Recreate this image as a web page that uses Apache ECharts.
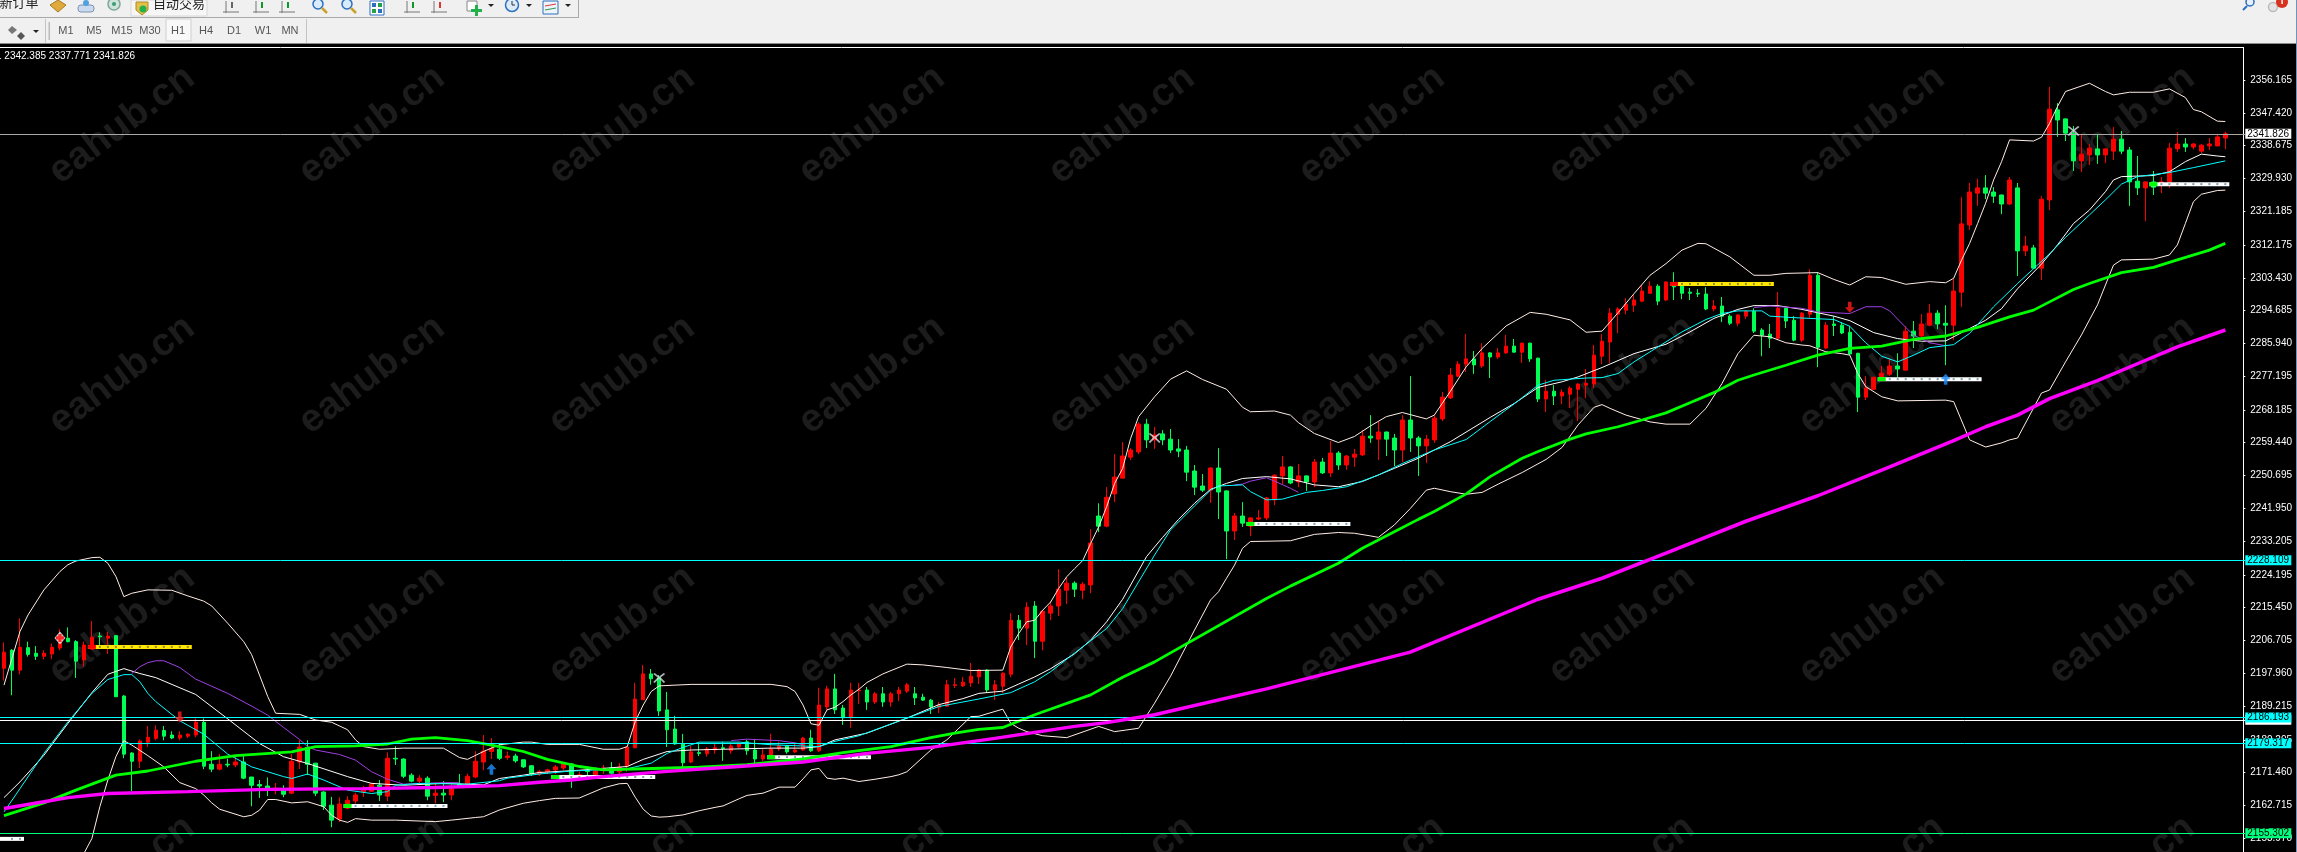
<!DOCTYPE html>
<html><head><meta charset="utf-8"><title>XAUUSD H1</title>
<style>html,body{margin:0;padding:0;background:#000;overflow:hidden}#c{width:2297px;height:852px}</style>
<script src="https://cdn.jsdelivr.net/npm/echarts@6/dist/echarts.min.js"></script></head>
<body><div id="c"></div><script>
// ---- candle prices (one row = 10 candles) ----
const opens=[
2199.3,2204.1,2198.8,2204.8,2203.3,2202.5,2203.1,2204.7,2207.3,2206.4,
2201.5,2204.4,2207.9,2207.3,2208.0,2191.9,2176.7,2174.5,2179.6,2180.6,
2182.7,2181.5,2180.7,2181.2,2181.5,2184.9,2173.7,2172.4,2173.7,2173.5,
2174.3,2170.3,2168.3,2167.9,2166.8,2166.8,2166.0,2174.3,2178.2,2174.0,
2166.3,2162.8,2159.1,2162.0,2163.9,2166.3,2166.5,2168.1,2165.2,2175.3,
2175.1,2170.8,2169.2,2170.0,2165.4,2166.0,2165.5,2168.4,2168.4,2170.3,
2174.3,2177.1,2177.7,2175.5,2175.9,2174.9,2173.3,2171.1,2171.7,2172.2,
2172.7,2173.8,2170.1,2172.0,2170.9,2172.4,2172.7,2171.7,2173.3,2178.1,
2190.9,2197.8,2196.7,2188.2,2183.1,2179.1,2174.3,2176.8,2176.5,2177.5,
2178.1,2177.3,2178.3,2179.7,2177.5,2175.1,2176.2,2177.8,2178.6,2177.0,
2177.5,2180.7,2177.3,2189.0,2193.8,2188.7,2186.3,2193.3,2193.5,2190.3,
2192.5,2190.3,2192.5,2193.2,2192.5,2191.6,2190.8,2188.9,2189.2,2194.7,
2194.6,2195.4,2197.0,2198.8,2193.5,2194.5,2197.7,2212.1,2210.0,2215.9,
2206.5,2214.0,2215.9,2220.1,2222.0,2220.1,2221.5,2239.9,2237.2,2245.8,
2250.0,2255.6,2257.0,2264.4,2260.2,2261.8,2260.4,2257.8,2257.5,2251.9,
2247.9,2246.8,2252.7,2246.6,2235.9,2239.9,2237.2,2239.1,2239.4,2244.2,
2250.6,2253.0,2249.0,2250.6,2249.0,2254.3,2251.4,2256.7,2253.5,2255.6,
2256.2,2261.2,2260.4,2262.3,2260.7,2257.5,2265.5,2260.7,2258.6,2260.2,
2265.8,2271.4,2277.2,2280.4,2281.8,2279.9,2283.4,2282.3,2283.4,2285.2,
2283.6,2286.0,2282.0,2271.1,2273.2,2271.9,2272.4,2273.7,2274.8,2275.1,
2282.5,2286.3,2293.7,2294.8,2296.1,2297.2,2299.3,2301.2,2297.5,2301.2,
2301.2,2299.6,2299.3,2299.1,2295.1,2295.9,2293.2,2291.3,2293.2,2294.5,
2289.5,2288.4,2287.3,2295.3,2292.1,2286.8,2293.7,2304.1,2284.7,2291.1,
2290.8,2288.9,2283.3,2271.6,2273.7,2276.7,2277.7,2279.9,2278.8,2289.2,
2287.9,2290.8,2294.0,2291.3,2290.8,2299.6,2317.5,2326.0,2327.4,2326.3,
2325.5,2323.1,2327.4,2310.6,2311.4,2306.0,2324.2,2348.2,2345.8,2342.0,
2334.6,2336.2,2337.8,2336.2,2337.2,2340.4,2337.5,2329.2,2327.4,2329.0,
2328.7,2329.0,2337.8,2339.1,2338.3,2337.2,2338.6,2338.6,2340.7];
const closes=[
2203.6,2198.8,2204.9,2203.0,2202.5,2203.3,2204.9,2207.4,2206.4,2201.2,
2205.5,2207.6,2207.7,2207.9,2191.7,2176.4,2174.5,2179.9,2180.9,2182.8,
2181.2,2180.7,2181.5,2181.7,2184.9,2173.2,2172.4,2173.7,2173.5,2174.3,
2170.0,2168.1,2167.9,2166.8,2167.3,2165.7,2174.5,2178.3,2173.7,2166.0,
2162.5,2158.8,2163.1,2164.1,2165.5,2166.8,2168.4,2165.5,2175.3,2175.1,
2170.5,2169.2,2170.0,2165.2,2166.0,2165.5,2167.1,2167.9,2170.5,2174.5,
2177.2,2177.9,2175.3,2175.9,2174.6,2173.0,2171.1,2171.7,2172.2,2173.0,
2173.8,2169.8,2170.9,2171.8,2171.9,2172.7,2171.3,2172.9,2178.3,2191.1,
2197.8,2196.5,2187.9,2182.9,2179.1,2174.1,2177.0,2176.6,2177.8,2178.1,
2177.9,2178.6,2179.1,2177.3,2175.1,2176.2,2177.8,2178.6,2177.0,2177.5,
2180.7,2177.3,2189.5,2193.8,2188.2,2186.1,2193.5,2193.5,2190.3,2192.5,
2190.3,2192.5,2193.5,2194.9,2191.4,2190.8,2189.0,2189.5,2194.9,2194.9,
2195.6,2197.2,2198.8,2193.5,2194.9,2198.0,2212.1,2210.0,2215.6,2206.5,
2214.5,2215.9,2220.4,2222.0,2220.4,2221.7,2232.7,2237.2,2244.9,2250.3,
2255.9,2257.5,2264.4,2260.2,2261.5,2260.2,2257.5,2257.2,2251.6,2247.6,
2246.8,2252.7,2246.3,2235.9,2239.9,2238.0,2239.4,2239.4,2244.7,2250.8,
2253.0,2248.7,2250.6,2249.0,2254.3,2251.4,2256.7,2253.5,2255.9,2256.4,
2261.2,2260.7,2262.3,2260.4,2257.5,2265.5,2260.7,2258.6,2260.4,2266.0,
2271.6,2277.5,2280.4,2281.8,2280.2,2283.4,2282.3,2283.4,2285.2,2283.6,
2286.0,2281.8,2271.1,2273.2,2271.9,2272.9,2274.0,2275.1,2275.3,2282.8,
2286.5,2294.0,2295.1,2296.4,2297.5,2299.9,2301.2,2297.2,2302.3,2301.0,
2299.3,2299.3,2299.1,2295.1,2295.9,2293.2,2291.3,2293.5,2294.5,2289.2,
2288.1,2287.3,2295.3,2291.9,2286.8,2294.0,2304.1,2284.9,2290.8,2290.7,
2288.7,2283.1,2271.6,2274.0,2276.9,2278.0,2279.9,2279.1,2289.2,2287.9,
2291.1,2294.0,2291.1,2290.8,2299.9,2317.8,2326.3,2327.4,2326.0,2325.2,
2323.1,2329.5,2310.6,2311.9,2306.0,2324.4,2348.4,2345.5,2342.0,2334.6,
2336.4,2338.0,2336.2,2337.8,2340.4,2337.2,2329.0,2327.4,2329.0,2327.6,
2329.0,2338.0,2339.1,2338.3,2339.1,2338.8,2339.1,2341.0,2341.826];
const lows=[
2196.0,2192.1,2197.7,2202.4,2201.5,2201.7,2201.7,2204.1,2206.2,2196.7,
2199.7,2204.3,2205.5,2203.1,2191.7,2175.3,2166.5,2172.7,2178.3,2180.1,
2180.1,2180.4,2180.1,2180.7,2180.9,2172.4,2171.6,2172.1,2172.9,2172.9,
2169.7,2162.5,2164.7,2165.2,2165.7,2164.9,2165.8,2172.4,2170.8,2165.2,
2161.5,2156.9,2158.3,2161.7,2163.2,2165.0,2166.4,2163.9,2163.9,2173.5,
2170.0,2168.9,2168.1,2164.1,2163.3,2163.6,2164.1,2167.7,2168.1,2170.0,
2172.1,2175.1,2174.8,2174.9,2174.1,2172.7,2170.6,2170.6,2171.1,2171.1,
2172.2,2167.4,2169.5,2170.6,2170.6,2171.1,2170.9,2171.1,2171.7,2178.0,
2190.8,2194.9,2186.6,2178.3,2178.9,2172.2,2174.0,2175.9,2175.7,2176.5,
2174.6,2176.5,2178.0,2176.2,2173.8,2174.6,2175.4,2177.3,2176.5,2176.7,
2177.3,2177.0,2177.0,2188.2,2187.1,2184.2,2183.4,2189.8,2188.2,2189.8,
2189.0,2189.0,2190.6,2192.7,2189.5,2190.6,2187.1,2187.4,2189.0,2194.0,
2194.3,2194.3,2195.1,2192.7,2190.8,2192.7,2196.9,2206.8,2205.5,2202.0,
2204.1,2212.1,2213.2,2216.4,2218.3,2217.7,2219.3,2235.6,2236.9,2243.6,
2250.0,2254.8,2256.4,2258.0,2257.8,2258.8,2256.7,2255.6,2249.2,2245.5,
2246.3,2243.4,2239.1,2228.4,2233.5,2237.0,2234.6,2238.8,2238.8,2242.8,
2248.4,2248.4,2247.6,2246.6,2247.6,2251.1,2250.3,2252.2,2252.2,2253.0,
2255.9,2259.4,2254.8,2255.9,2253.2,2254.3,2257.0,2250.6,2254.0,2259.4,
2265.2,2271.1,2277.0,2278.3,2277.8,2279.4,2276.7,2281.8,2283.1,2283.5,
2280.7,2281.0,2270.3,2267.6,2269.5,2269.7,2268.7,2265.2,2271.3,2274.0,
2280.4,2280.7,2288.7,2293.7,2294.3,2296.9,2299.1,2296.1,2297.2,2297.5,
2297.7,2297.5,2298.3,2294.8,2294.5,2291.6,2290.8,2290.5,2292.4,2288.7,
2282.5,2284.7,2286.8,2290.0,2286.5,2286.3,2292.7,2279.6,2284.4,2287.9,
2288.4,2282.8,2267.6,2270.8,2273.5,2276.4,2277.2,2276.9,2278.7,2284.7,
2287.6,2290.5,2289.7,2280.1,2286.8,2295.6,2316.2,2322.6,2324.4,2323.4,
2320.4,2322.8,2303.9,2309.2,2305.9,2302.8,2321.5,2341.0,2339.9,2331.9,
2331.6,2333.5,2333.8,2334.0,2334.8,2336.4,2322.6,2325.5,2318.6,2325.5,
2326.0,2327.4,2337.0,2337.0,2337.7,2336.7,2337.5,2338.5,2337.771];
const highs=[
2206.2,2204.4,2212.6,2206.4,2205.2,2204.1,2205.9,2209.7,2210.2,2206.8,
2206.4,2211.9,2208.9,2209.0,2208.0,2192.1,2176.9,2180.3,2183.9,2184.1,
2183.9,2182.5,2182.5,2182.0,2185.9,2185.9,2177.2,2176.4,2175.2,2175.9,
2175.9,2170.3,2169.5,2170.2,2168.7,2168.1,2176.4,2180.1,2180.1,2174.0,
2166.5,2165.0,2164.9,2165.2,2166.1,2167.9,2168.8,2169.5,2176.9,2178.5,
2175.3,2171.3,2170.8,2170.5,2168.9,2169.2,2168.4,2171.1,2171.2,2177.2,
2181.5,2180.7,2179.1,2177.1,2176.5,2175.0,2173.5,2172.2,2172.5,2173.5,
2174.2,2174.0,2171.7,2172.6,2173.0,2173.5,2174.3,2174.0,2178.5,2195.4,
2200.2,2199.1,2197.5,2193.0,2186.6,2181.8,2178.6,2179.1,2178.3,2179.1,
2179.7,2179.4,2179.7,2180.2,2180.2,2177.8,2181.8,2179.7,2178.6,2179.1,
2181.0,2182.9,2194.1,2194.6,2197.8,2189.5,2195.4,2195.4,2194.3,2193.0,
2194.3,2193.0,2194.3,2195.4,2194.3,2192.5,2191.1,2190.3,2196.2,2196.7,
2197.0,2200.7,2199.1,2199.0,2196.2,2198.2,2214.0,2213.5,2216.9,2217.2,
2214.8,2217.2,2225.7,2223.6,2222.5,2222.3,2236.4,2243.3,2247.6,2256.4,
2259.6,2258.0,2264.9,2265.8,2263.6,2262.8,2263.1,2260.4,2258.6,2253.5,
2251.1,2252.9,2258.0,2246.7,2240.7,2243.6,2239.5,2241.5,2245.0,2251.0,
2255.9,2253.2,2253.8,2250.7,2255.1,2255.4,2259.9,2257.2,2256.2,2257.8,
2262.8,2266.8,2265.0,2262.4,2261.8,2266.8,2277.2,2261.2,2261.5,2266.8,
2273.0,2279.4,2281.2,2288.4,2283.9,2286.0,2283.6,2284.7,2288.2,2287.1,
2286.1,2286.1,2282.1,2276.2,2274.8,2273.7,2274.5,2275.3,2279.1,2285.5,
2288.4,2295.3,2295.6,2298.0,2298.8,2301.5,2302.5,2301.7,2302.5,2304.9,
2301.5,2300.7,2300.4,2300.9,2297.5,2298.3,2293.7,2293.7,2294.8,2295.3,
2290.0,2291.1,2299.6,2295.4,2293.2,2294.3,2305.7,2304.9,2291.6,2293.2,
2291.6,2290.5,2283.4,2277.2,2277.0,2279.9,2282.0,2283.3,2290.5,2291.9,
2293.7,2296.4,2294.8,2296.1,2303.1,2325.0,2328.7,2329.8,2330.8,2327.6,
2325.6,2330.3,2328.7,2314.6,2312.2,2325.2,2354.3,2350.0,2345.9,2343.9,
2341.5,2339.1,2341.8,2338.0,2343.6,2342.6,2338.3,2335.9,2329.1,2331.9,
2330.3,2339.4,2342.3,2340.7,2339.4,2339.1,2340.7,2341.8,2342.385];

// ---- indicator lines: [candle number, price] read at points along each curve ----
const upperBand=[[0,2194.8],[2,2209.1],[3,2213.5],[5,2220.2],[7,2225.1],[8,2226.9],[9,2227.9],[11,2228.8],[12,2228.9],[13,2227.3],[14,2223.8],[15,2218.4],[16,2219.3],[18,2220.2],[21,2220.1],[23,2218.6],[25,2217.2],[26,2215.9],[28,2211.3],[30,2206.4],[31,2202.9],[33,2191.8],[34,2187.3],[37,2187.0],[39,2185.5],[41,2184.9],[43,2182.9],[44,2180.2],[45,2178.4],[47,2177.7],[50,2178.0],[55,2178.0],[57,2175.5],[58,2175.0],[60,2177.1],[62,2178.9],[65,2179.6],[66,2179.6],[68,2179.0],[72,2179.0],[75,2177.7],[77,2177.7],[78,2178.4],[79,2185.1],[80,2189.5],[81,2193.1],[82,2194.6],[86,2195.0],[92,2195.0],[96,2195.0],[98,2194.4],[99,2193.1],[100,2189.5],[101,2184.5],[102,2184.1],[103,2188.2],[104,2188.9],[105,2190.4],[106,2192.2],[107,2193.7],[108,2195.5],[110,2197.8],[113,2200.4],[115,2200.2],[118,2199.5],[121,2198.7],[125,2198.8],[126,2205.0],[127,2208.6],[128,2211.7],[129,2212.1],[130,2214.8],[131,2217.0],[132,2220.6],[133,2223.7],[134,2225.9],[135,2228.0],[136,2232.6],[137,2237.0],[138,2242.4],[139,2248.6],[140,2252.6],[141,2260.6],[142,2266.4],[144,2271.7],[146,2276.4],[148,2278.6],[150,2276.3],[153,2273.7],[155,2268.9],[156,2267.7],[159,2267.9],[161,2266.8],[162,2264.8],[164,2261.9],[167,2259.5],[169,2261.1],[171,2263.9],[173,2266.4],[175,2267.5],[178,2265.8],[179,2266.8],[181,2273.1],[183,2279.7],[185,2284.6],[188,2290.6],[191,2294.2],[193,2293.7],[196,2292.2],[198,2288.9],[200,2289.2],[202,2294.1],[204,2299.2],[206,2304.1],[208,2307.2],[210,2310.8],[212,2312.6],[213,2312.5],[216,2309.0],[219,2304.1],[221,2304.1],[223,2304.6],[227,2304.8],[229,2303.0],[231,2301.5],[233,2303.7],[235,2303.5],[238,2301.7],[241,2302.4],[243,2302.1],[244,2303.3],[245,2308.2],[246,2312.6],[247,2317.9],[248,2323.3],[249,2329.5],[250,2334.4],[251,2340.2],[254,2339.9],[255,2340.9],[256,2344.6],[257,2349.1],[258,2353.1],[261,2355.3],[263,2353.1],[264,2352.2],[266,2352.9],[269,2352.9],[271,2353.8],[273,2351.5],[274,2348.3],[275,2347.7],[277,2345.2],[278,2345.1]];
const midBand=[[0,2164.8],[2,2169.0],[5,2176.1],[8,2184.6],[11,2192.8],[13,2197.7],[15,2199.2],[17,2197.9],[19,2196.8],[24,2192.3],[28,2185.8],[32,2179.2],[35,2175.7],[38,2173.9],[43,2170.4],[46,2168.6],[50,2168.1],[55,2168.6],[60,2168.2],[62,2169.9],[65,2170.8],[67,2171.5],[72,2172.1],[78,2173.1],[80,2175.0],[83,2177.1],[86,2177.5],[90,2177.7],[96,2178.0],[100,2178.0],[102,2178.4],[104,2180.2],[108,2182.0],[113,2186.0],[117,2189.6],[120,2191.2],[122,2192.6],[125,2193.2],[127,2195.1],[129,2197.0],[131,2199.2],[134,2203.2],[136,2206.8],[138,2211.7],[140,2217.7],[143,2229.1],[145,2234.2],[147,2239.0],[149,2243.3],[151,2247.0],[153,2248.6],[155,2249.9],[158,2250.4],[161,2249.8],[164,2248.2],[167,2247.7],[170,2249.1],[174,2252.6],[177,2255.3],[181,2259.7],[186,2266.2],[189,2269.9],[192,2274.2],[195,2275.7],[197,2277.0],[200,2279.5],[204,2283.2],[208,2285.7],[211,2289.0],[214,2292.6],[217,2295.0],[219,2296.0],[222,2296.0],[225,2295.0],[229,2293.2],[231,2292.0],[234,2288.8],[237,2287.2],[240,2286.5],[243,2286.6],[246,2289.9],[248,2292.1],[250,2295.2],[252,2300.5],[255,2307.1],[257,2312.2],[259,2317.9],[261,2321.5],[263,2326.4],[264,2329.5],[265,2330.4],[269,2330.7],[271,2331.7],[273,2334.4],[275,2336.4],[277,2335.9],[278,2335.7]];
const lowerBand=[[10,2149.9],[11,2153.9],[12,2162.4],[13,2169.5],[14,2175.7],[15,2180.0],[16,2178.8],[18,2176.0],[20,2173.0],[22,2168.8],[24,2167.2],[25,2165.5],[26,2163.4],[27,2161.7],[30,2159.7],[31,2160.1],[32,2161.5],[33,2164.3],[34,2164.3],[36,2163.4],[38,2163.7],[40,2162.4],[41,2160.1],[42,2158.8],[43,2158.2],[44,2159.2],[46,2158.8],[49,2158.8],[54,2158.4],[56,2158.8],[59,2159.5],[60,2159.7],[62,2161.5],[65,2163.3],[67,2164.0],[69,2164.6],[72,2164.7],[75,2167.4],[77,2168.5],[78,2168.6],[79,2164.9],[80,2161.7],[81,2159.9],[82,2159.6],[83,2159.7],[85,2160.2],[87,2161.3],[89,2162.2],[90,2162.6],[92,2164.5],[93,2165.4],[95,2166.0],[97,2167.6],[99,2167.6],[100,2169.8],[101,2172.2],[102,2172.6],[103,2170.0],[104,2169.7],[105,2170.0],[107,2169.1],[109,2169.7],[111,2170.4],[112,2170.9],[113,2171.7],[116,2177.5],[118,2180.2],[121,2186.4],[122,2186.5],[125,2188.4],[126,2184.6],[127,2183.3],[128,2182.4],[130,2181.3],[133,2180.8],[137,2183.8],[139,2182.4],[142,2183.3],[144,2190.0],[146,2197.2],[149,2209.5],[151,2217.5],[152,2219.7],[153,2223.3],[154,2226.8],[155,2231.3],[156,2233.1],[161,2233.3],[164,2235.0],[167,2235.5],[169,2235.3],[171,2234.6],[172,2234.2],[174,2237.5],[176,2241.9],[178,2246.8],[179,2247.3],[181,2246.4],[183,2245.7],[185,2246.2],[187,2248.4],[190,2251.5],[193,2255.0],[195,2258.2],[197,2264.2],[199,2268.9],[200,2269.6],[201,2268.6],[203,2266.8],[206,2265.0],[208,2264.4],[211,2264.4],[213,2268.6],[215,2275.2],[217,2283.2],[219,2288.1],[221,2287.7],[223,2286.1],[225,2285.5],[226,2285.3],[228,2283.7],[230,2283.2],[231,2282.8],[232,2277.9],[233,2274.4],[235,2271.7],[237,2270.6],[243,2270.8],[244,2270.4],[246,2260.2],[248,2258.3],[250,2259.4],[251,2260.2],[252,2260.7],[255,2272.7],[256,2273.5],[258,2281.0],[260,2288.2],[262,2296.2],[263,2301.5],[264,2306.8],[265,2308.2],[269,2308.4],[271,2309.5],[272,2312.2],[273,2317.9],[274,2323.7],[275,2325.7],[277,2326.7],[278,2326.8]];
const cyanLine=[[0,2161.0],[2,2167.2],[5,2176.6],[8,2185.0],[11,2192.6],[13,2196.3],[15,2197.6],[16,2197.6],[17,2195.7],[18,2192.6],[19,2190.4],[22,2185.3],[25,2181.7],[28,2176.4],[31,2173.0],[35,2170.4],[36,2169.9],[38,2171.1],[40,2169.5],[43,2166.8],[46,2165.9],[48,2166.4],[49,2168.1],[52,2168.6],[58,2168.4],[62,2169.3],[63,2170.0],[67,2171.1],[71,2171.9],[78,2172.5],[81,2174.0],[83,2176.6],[85,2178.2],[87,2179.6],[92,2179.6],[96,2178.9],[102,2178.4],[104,2179.8],[107,2181.3],[113,2186.0],[117,2189.1],[122,2191.1],[126,2192.8],[129,2195.7],[131,2198.4],[135,2205.0],[138,2209.9],[140,2215.2],[141,2218.8],[144,2229.5],[146,2236.2],[149,2242.6],[151,2246.8],[152,2247.9],[155,2248.2],[156,2246.4],[158,2244.2],[160,2244.4],[163,2246.2],[165,2246.7],[168,2247.7],[172,2250.8],[175,2253.9],[179,2257.5],[183,2260.3],[186,2265.1],[189,2269.8],[192,2274.8],[194,2276.1],[198,2276.7],[200,2276.8],[202,2277.9],[204,2281.0],[207,2285.0],[210,2289.0],[213,2292.3],[215,2293.9],[217,2294.6],[220,2294.6],[221,2293.2],[224,2292.8],[229,2292.3],[231,2290.5],[233,2286.1],[235,2282.5],[237,2281.0],[239,2282.8],[241,2284.8],[244,2285.6],[246,2288.6],[249,2295.7],[252,2301.9],[256,2309.8],[258,2314.2],[261,2320.2],[263,2324.2],[265,2328.4],[267,2330.4],[271,2331.5],[274,2332.8],[278,2334.6]];
const limeLine=[[0,2160.0],[5,2163.4],[9,2166.8],[14,2170.8],[18,2171.9],[24,2174.5],[29,2176.0],[36,2177.0],[39,2178.4],[44,2178.6],[48,2179.1],[51,2180.4],[54,2180.8],[58,2180.0],[62,2178.4],[65,2177.1],[68,2175.0],[72,2173.1],[75,2172.2],[80,2172.5],[87,2172.9],[93,2173.6],[100,2175.1],[105,2176.8],[111,2178.4],[116,2180.8],[119,2182.0],[122,2183.0],[125,2183.5],[129,2186.9],[136,2192.2],[140,2196.9],[144,2201.0],[158,2217.9],[161,2221.2],[167,2227.3],[170,2231.3],[174,2235.7],[177,2239.0],[179,2241.1],[183,2245.8],[186,2250.4],[190,2255.3],[192,2257.1],[196,2260.4],[198,2261.8],[202,2263.7],[205,2265.5],[208,2267.4],[211,2270.1],[214,2272.8],[217,2276.1],[219,2277.5],[223,2280.1],[227,2282.8],[231,2284.6],[235,2285.2],[239,2287.0],[243,2287.9],[247,2290.2],[251,2293.0],[254,2294.8],[256,2297.0],[259,2300.3],[261,2301.9],[265,2304.8],[269,2306.2],[272,2308.2],[276,2310.8],[278,2312.6]];
const magentaLine=[[0,2161.9],[5,2163.7],[8,2164.8],[13,2165.9],[23,2166.4],[33,2167.0],[45,2167.2],[54,2167.5],[62,2168.0],[67,2168.9],[71,2169.5],[75,2170.4],[83,2171.8],[92,2173.1],[100,2174.3],[108,2176.6],[116,2178.2],[124,2180.6],[134,2183.8],[138,2184.8],[144,2186.9],[158,2193.8],[176,2203.6],[192,2217.7],[200,2223.3],[208,2230.0],[218,2238.5],[227,2245.3],[236,2253.0],[244,2260.0],[248,2263.7],[252,2266.8],[256,2271.2],[262,2276.0],[267,2280.5],[272,2285.0],[278,2289.5]];
const purpleA=[[16,2197.9],[17,2199.7],[18,2200.8],[19,2201.3],[20,2201.3],[22,2199.5],[24,2196.4],[28,2192.6],[31,2189.2],[33,2186.8],[35,2183.5],[37,2180.3],[38,2178.4],[39,2177.5],[42,2176.3],[44,2174.8],[46,2171.7],[48,2169.7],[50,2168.4],[55,2168.8],[57,2168.8]];
const purpleB=[[91,2180.0],[93,2180.4],[97,2180.0],[99,2179.4],[100,2178.9]];
const purpleC=[[154,2248.2],[155,2248.4],[156,2249.2],[158,2250.1],[159,2249.2],[161,2247.3],[162,2246.2]];
const purpleD=[[219,2295.5],[221,2295.9],[225,2295.3],[227,2294.3],[231,2293.9],[233,2295.7],[235,2295.7],[236,2294.6],[238,2290.2],[239,2288.1],[241,2286.1],[243,2285.3]];
const purpleE=[[73,2172.6],[75,2172.6]];

// ---- dotted level bars: first candle, last candle, price ----
const yellowBars=[[11,23,2205.0],[209,221,2301.8]];
const whiteBars=[[0,2,2153.8],[43,55,2162.6],[69,81,2170.3],[96,108,2175.6],[156,168,2237.8],[235,247,2276.4],[269,278,2328.4]];

// ---- signal marks ----
const redDownArrows=[[22,2186.3],[231,2295.6]];
const blueUpArrows=[[61,2172.4],[243,2276.4]];
const crossMarks=[[82,2196.7],[144,2260.7],[259,2342.6]];
const fishMarks=[[7,2207.4]];

// ---- horizontal levels, price axis ----
const whiteLevel=2185.55, bidLevel=2341.826;
const cyanLevels=[2228.109,2186.193,2179.317];
const greenLevel=2155.302;
const axisTicks=[2356.165,2347.420,2338.675,2329.930,2321.185,2312.175,2303.430,2294.685,2285.940,2277.195,2268.185,2259.440,2250.695,2241.950,2233.205,2224.195,2215.450,2206.705,2197.960,2189.215,2180.205,2171.460,2162.715,2153.970];
const headerText='1 2342.385 2337.771 2341.826';
const periods=['M1','M5','M15','M30','H1','H4','D1','W1','MN'];
const watermark='eahub.cn';

// ---- drawing ----
const categories=Array.from({length:281},(_,i)=>'c'+i);
const candleData=opens.map((o,i)=>[o,closes[i],lows[i],highs[i]]);
const FONT='"Liberation Sans",Arial,sans-serif';
const thin=(name,data,color,w,z)=>({type:'line',name,data,showSymbol:false,symbol:'none',silent:true,z:z||4,animation:false,lineStyle:{color,width:w},itemStyle:{color},connectNulls:true,clip:true});
const marks=(data,symbol,size,color,rot)=>({type:'scatter',data,symbol,symbolSize:size,symbolRotate:rot||0,z:7,silent:true,itemStyle:{color}});
const ARROW='path://M5 0L10 5.5L6.8 5.5L6.8 11L3.2 11L3.2 5.5L0 5.5Z';
const XMARK='path://M0 1L1.5 0L6 3.6L10.5 0L12 1L7.5 4.6L12 9L10.5 10L6 5.6L1.5 10L0 9L4.5 4.6Z';
const barSeries=(data,fill,head,dot)=>({type:'custom',data,z:3,silent:true,clip:true,encode:{x:[0,1],y:2},
 renderItem(p,api){
  const a=api.coord([api.value(0),api.value(2)]),b=api.coord([api.value(1),api.value(2)]);
  const x0=a[0]-4,x1=b[0]+4,y=a[1]-2,n=api.value(1)-api.value(0);
  const kids=[{type:'rect',shape:{x:x0,y,width:x1-x0,height:4},style:{fill}}];
  if(api.value(0)>0)kids.push({type:'rect',shape:{x:x0,y,width:8,height:4},style:{fill:head}});
  for(let k=1;k<=n;k++)kids.push({type:'rect',shape:{x:a[0]+k*(b[0]-a[0])/n-1,y:y+1,width:2,height:2},style:{fill:dot}});
  return{type:'group',children:kids};
 }});
const levelLine=(v,lineColor,bg,fg,txt)=>({yAxis:v,lineStyle:{color:lineColor,width:1,type:'solid'},
  label:{show:true,position:'end',distance:0,formatter:txt===undefined?v.toFixed(3):txt,backgroundColor:bg,color:fg,fontFamily:FONT,fontSize:10,width:42,height:8,lineHeight:8,padding:[1,2],align:'left',verticalAlign:'middle'}});

// toolbar and page furniture
const g=[];
const rect=(x,y,w,h,fill,z,stroke)=>g.push({type:'rect',z:z||20,silent:true,shape:{x,y,width:w,height:h},style:{fill,stroke:stroke||null,lineWidth:stroke?1:0}});
const txt=(x,y,t,o)=>g.push({type:'text',z:(o&&o.z)||22,silent:true,x,y,rotation:(o&&o.rot)||0,style:Object.assign({text:t,fill:'#555',font:'11px '+FONT,align:'center',verticalAlign:'middle'},o&&o.style)});
const circ=(cx,cy,r,fill,stroke)=>g.push({type:'circle',z:22,silent:true,shape:{cx,cy,r},style:{fill,stroke:stroke||null,lineWidth:stroke?1.5:0}});
const poly=(pts,fill,stroke)=>g.push({type:'polygon',z:22,silent:true,shape:{points:pts},style:{fill,stroke:stroke||null,lineWidth:stroke?1:0}});
const seg=(x1,y1,x2,y2,c,w)=>g.push({type:'line',z:22,silent:true,shape:{x1,y1,x2,y2},style:{stroke:c,lineWidth:w||1}});

// watermark grid
for(let r=0;r<4;r++)for(let c=0;c<9;c++)
 g.push({type:'text',z:0,silent:true,x:122+250*c,y:125+250*r,rotation:37*Math.PI/180,
  style:{text:watermark,fill:'#1c1c1c',font:'bold 39px '+FONT,align:'center',verticalAlign:'middle'}});

rect(0,0,2297,43.5,'#f0f0f0');
rect(0,43,2297,1,'#8a8a8a');
rect(0,17,578,1,'#a8a8a8');
rect(578,0,1,18,'#a8a8a8');
rect(131,0,76,16,'#f6f6f6',21,'#d8d8d8');
rect(45,19,1,24,'#c4c4c4');
rect(306,19,1,24,'#c4c4c4');
rect(166,19,25,22,'#f8f8f8',21,'#cfcfcf');
rect(48.5,22,1.5,18,'#bbb');
txt(19,2,'新订单',{style:{fill:'#222',font:'13px "Noto Sans CJK SC",sans-serif'}});
txt(179,3,'自动交易',{style:{fill:'#222',font:'13px "Noto Sans CJK SC",sans-serif'}});
[66,94,122,150,178,206,234,263,290].forEach((x,i)=>txt(x,31,periods[i]));
// row one icons
poly([[58,0],[66,5],[58,12],[50,5]],'#e0a93c','#a87a20');
g.push({type:'rect',z:22,silent:true,shape:{x:78,y:5,width:16,height:7,r:3},style:{fill:'#c9d9ee',stroke:'#7f95b5',lineWidth:1}});
circ(86,3,3,'#4fa0e0');
circ(114,4,6,'#cfe3d6','#7fa8a0');
circ(114,4,2,'#3a9a7a');
poly([[136,2],[148,2],[148,10],[142,15],[136,10]],'#e3c04a','#b08a20');
circ(143,9,3.5,'#22b14c');
[[232,'#666'],[262,'#0a9a2a'],[288,'#0a9a2a'],[413,'#0a9a2a'],[440,'#d33']].forEach(([x,c])=>{
  seg(x-6,1,x-6,13,'#777',1);seg(x-9,12,x+7,12,'#777',1);seg(x,2,x,8,c,2);});
[[319,'#2a6fc0'],[348,'#2a6fc0']].forEach(([x,c])=>{circ(x-1,4,5,'#d9ecfb',c);seg(x+3,8,x+8,13,'#c9a227',2.5);});
rect(370,1,14,14,'#fff',21,'#2a6fc0');rect(372,3,4,4,'#2a6fc0',22);rect(378,3,4,4,'#22a04a',22);rect(372,9,4,4,'#22a04a',22);rect(378,9,4,4,'#2a6fc0',22);
rect(467,1,10,10,'#fff',21,'#888');rect(475,5,3,11,'#22b14c',22);rect(471,9,11,3,'#22b14c',22);
poly([[488,4],[494,4],[491,7]],'#222');
circ(512,5,6.5,'#dcebf8','#2a6fc0');seg(512,5,512,1,'#333',1);seg(512,5,515,5,'#333',1);
poly([[526,4],[532,4],[529,7]],'#222');
rect(543,1,15,13,'#eef4fb',21,'#2a6fc0');seg(545,6,556,4,'#d33',1);seg(545,10,556,8,'#2a9a4a',1);
poly([[565,4],[571,4],[568,7]],'#222');
poly([[12,26],[17,30],[12,34],[8,30]],'#777');poly([[21,32],[25,36],[21,40],[17,36]],'#555');
poly([[33,30],[39,30],[36,33]],'#222');
// right side icons
circ(2250,2,4,'#e8f0fb','#2a6fc0');seg(2247,6,2243,10,'#2a6fc0',2);
circ(2273,7,4.5,'#e4e4e4','#bbb');circ(2282,2,6,'#d8321e');rect(2281.4,-1,1.4,5,'#fff',23);
rect(2296,0,1,852,'#6f94b8',23);
// chart frame
seg(0,47.5,2244,47.5,'#ffffff',1);
txt(-4,56,headerText,{z:8,style:{fill:'#ffffff',font:'10px '+FONT,align:'left',verticalAlign:'middle'}});

const chart=echarts.init(document.getElementById('c'),null,{renderer:'canvas',width:2297,height:852});
chart.setOption({
 animation:false,backgroundColor:'#000000',
 graphic:g,
 grid:{left:-2.7,top:48,width:2248,height:804,containLabel:false,show:false},
 xAxis:{type:'category',data:categories,boundaryGap:true,show:false},
 yAxis:{type:'value',position:'right',offset:-2,min:2150.3,max:2364.7,splitLine:{show:false},
  axisLine:{show:true,onZero:false,lineStyle:{color:'#ffffff',width:1}},
  axisTick:{show:true,length:2,customValues:axisTicks,lineStyle:{color:'#ffffff',width:1}},
  axisLabel:{show:true,customValues:axisTicks,margin:7,color:'#ffffff',fontFamily:FONT,fontSize:10,formatter:v=>Number(v).toFixed(3)}},
 series:[
  {type:'candlestick',data:candleData,barWidth:4,z:2,silent:true,clip:true,
   itemStyle:{color:'#ff0000',color0:'#00ff55',borderColor:'#ff0000',borderColor0:'#00ff55',borderWidth:1}},
  barSeries(yellowBars,'#ffe600','#ff0000','#8a8a3a'),
  barSeries(whiteBars,'#ffffff','#00ff00','#7f9fae'),
  thin('upper',upperBand,'#ffeee6',1),
  thin('lower',lowerBand,'#ffeee6',1),
  thin('mid',midBand,'#ffffff',1),
  thin('purpleA',purpleA,'#a040e0',1),thin('purpleB',purpleB,'#a040e0',1),thin('purpleC',purpleC,'#a040e0',1),thin('purpleD',purpleD,'#a040e0',1),thin('purpleE',purpleE,'#a040e0',1),
  thin('cyan',cyanLine,'#00ffff',1),
  thin('lime',limeLine,'#00ff00',2.8,5),
  thin('magenta',magentaLine,'#ff00ff',3.5,6),
  marks(redDownArrows,ARROW,[10,11],'#ff1a1a',180),
  marks(blueUpArrows,ARROW,[10,11],'#1e90ff'),
  marks(crossMarks,XMARK,[12,10],'#d8dfe6'),
  marks(fishMarks,'diamond',[11,13],'#ffffff'),
  Object.assign(marks(fishMarks,'path://M3 0L7 0L7 3L10 3L10 7L7 7L7 10L3 10L3 7L0 7L0 3L3 3Z',[8,8],'#ff0000'),{z:8}),
  {type:'line',data:[],z:6,silent:true,showSymbol:false,
   markLine:{silent:true,symbol:'none',animation:false,precision:3,z:6,
    data:[levelLine(greenLevel,'#00ff7f','#00ff7f','#000'),
          levelLine(whiteLevel,'#ffffff','#ffffff','#000',''),
          levelLine(bidLevel,'#a8a8a8','#ffffff','#000'),
          ...cyanLevels.map(v=>levelLine(v,'#00ffff','#00ffff','#000'))]}}
 ]
});
</script></body></html>
